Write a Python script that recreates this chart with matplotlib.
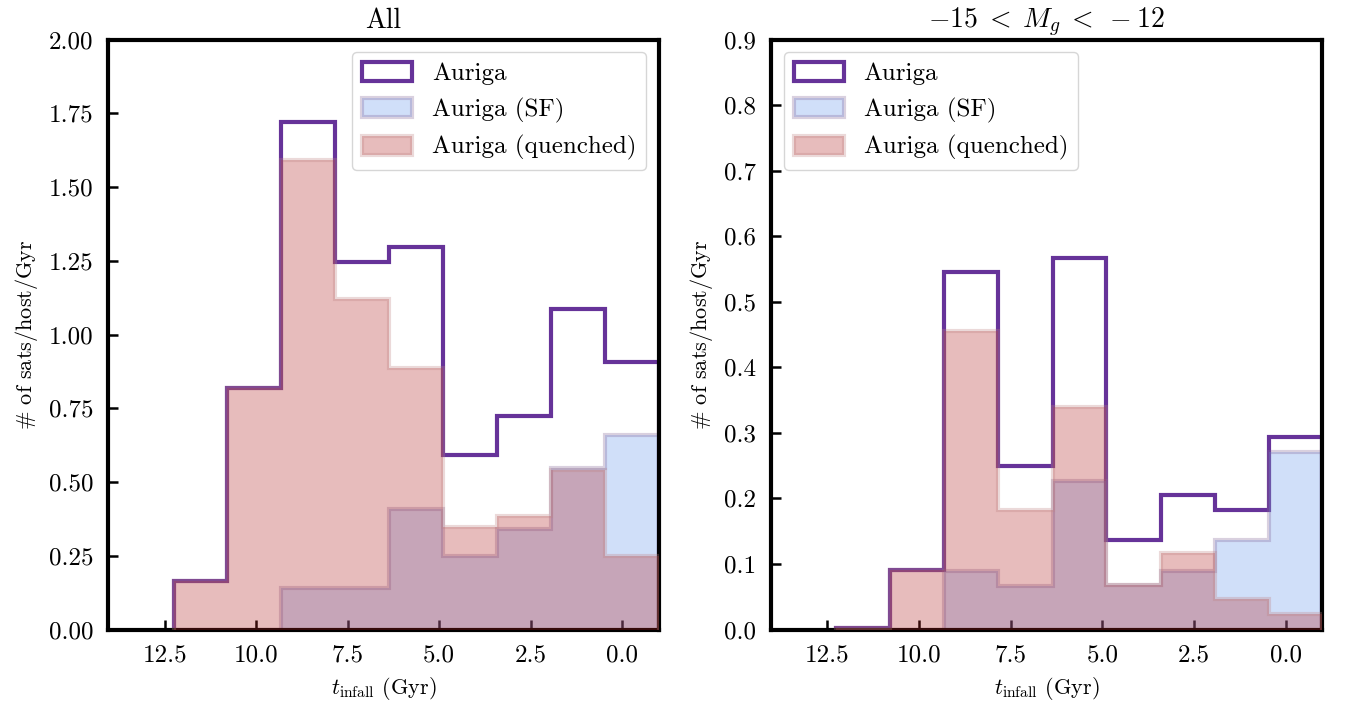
import numpy as np
import matplotlib
matplotlib.use("Agg")
import matplotlib.pyplot as plt
import matplotlib.patches as mpatches

plt.rcParams['font.family'] = 'serif'
plt.rcParams['font.serif'] = ['cmr10']
plt.rcParams['mathtext.fontset'] = 'cm'
plt.rcParams['axes.formatter.use_mathtext'] = True
plt.rcParams['axes.unicode_minus'] = True

# bin edges in lookback infall time (Gyr), high -> low
edges = np.array([12.26, 10.79, 9.31, 7.84, 6.36, 4.89, 3.41, 1.94, 0.46, -1.0])

# Left panel: All
all_auriga = np.array([0.163, 0.82, 1.722, 1.247, 1.295, 0.59, 0.725, 1.088, 0.908])
all_sf = np.array([0.0, 0.0, 0.14, 0.14, 0.41, 0.25, 0.34, 0.546, 0.66])
all_quenched = np.array([0.163, 0.82, 1.593, 1.119, 0.888, 0.346, 0.386, 0.542, 0.248])

# Right panel: -15 < Mg < -12
mg_auriga = np.array([0.003, 0.0915, 0.545, 0.25, 0.566, 0.136, 0.205, 0.182, 0.294])
mg_sf = np.array([0.0, 0.0, 0.09, 0.067, 0.226, 0.068, 0.09, 0.136, 0.271])
mg_quenched = np.array([0.003, 0.0915, 0.455, 0.183, 0.340, 0.068, 0.116, 0.047, 0.024])

titles = ["All", r"$-15\;<\;M_g\;<\;-12$"]
labels = ["Auriga", "Auriga (SF)", "Auriga (quenched)"]
xticks = [12.5, 10.0, 7.5, 5.0, 2.5, 0.0]
yticks_left = [0.0, 0.25, 0.5, 0.75, 1.0, 1.25, 1.5, 1.75, 2.0]
yticks_right = [0.0, 0.1, 0.2, 0.3, 0.4, 0.5, 0.6, 0.7, 0.8, 0.9]

purple = '#663399'
sf_face = (100/255, 149/255, 237/255, 0.3)
sf_edge = (130/255, 100/255, 150/255, 0.3)
q_face = (178/255, 34/255, 34/255, 0.3)
q_edge = (190/255, 130/255, 130/255, 0.3)

fig = plt.figure(figsize=(13.47, 7.16), dpi=100)
ax1 = fig.add_axes([0.0805, 0.1208, 0.4085, 0.824])
ax2 = fig.add_axes([0.5724, 0.1208, 0.4093, 0.824])

panels = [
    (ax1, all_auriga, all_sf, all_quenched, yticks_left, (0, 2.0), 'upper right', '{:.2f}'),
    (ax2, mg_auriga, mg_sf, mg_quenched, yticks_right, (0, 0.9), 'upper left', '{:.1f}'),
]

e = edges[::-1]
for i, (ax, au, sf, q, yt, ylim, loc, fmt) in enumerate(panels):
    ax.stairs(au[::-1], e, fill=False, edgecolor=purple, linewidth=3.0, zorder=1)
    ax.stairs(sf[::-1], e, fill=True, facecolor=sf_face, edgecolor=sf_edge, linewidth=3.0, zorder=2)
    ax.stairs(q[::-1], e, fill=True, facecolor=q_face, edgecolor=q_edge, linewidth=3.0, zorder=3)
    ax.set_xlim(14.04, -1.0)
    ax.set_ylim(*ylim)
    ax.set_xticks(xticks)
    ax.set_xticklabels(['{:.1f}'.format(t) for t in xticks])
    ax.set_yticks(yt)
    ax.set_yticklabels([fmt.format(t) for t in yt])
    ax.tick_params(direction='in', length=7, width=1.8, labelsize=18, pad=11,
                   top=False, right=False)
    for sp in ax.spines.values():
        sp.set_linewidth(3.0)
    ax.set_title(titles[i], fontsize=20, pad=8)
    ax.set_xlabel(r"$t_{\rm infall}$ (Gyr)", fontsize=16, labelpad=6)
    ax.set_ylabel(r"$\#$ of sats/host/Gyr", fontsize=16, labelpad=6)
    handles = [
        mpatches.Patch(facecolor='white', edgecolor=purple, linewidth=3.0, label=labels[0]),
        mpatches.Patch(facecolor=sf_face, edgecolor=sf_edge, linewidth=3.0, label=labels[1]),
        mpatches.Patch(facecolor=q_face, edgecolor=q_edge, linewidth=3.0, label=labels[2]),
    ]
    ax.legend(handles=handles, loc=loc, fontsize=18, handlelength=2.0, handleheight=0.8,
              borderaxespad=0.5, labelspacing=0.5)

fig.savefig("out.png", dpi=100)
